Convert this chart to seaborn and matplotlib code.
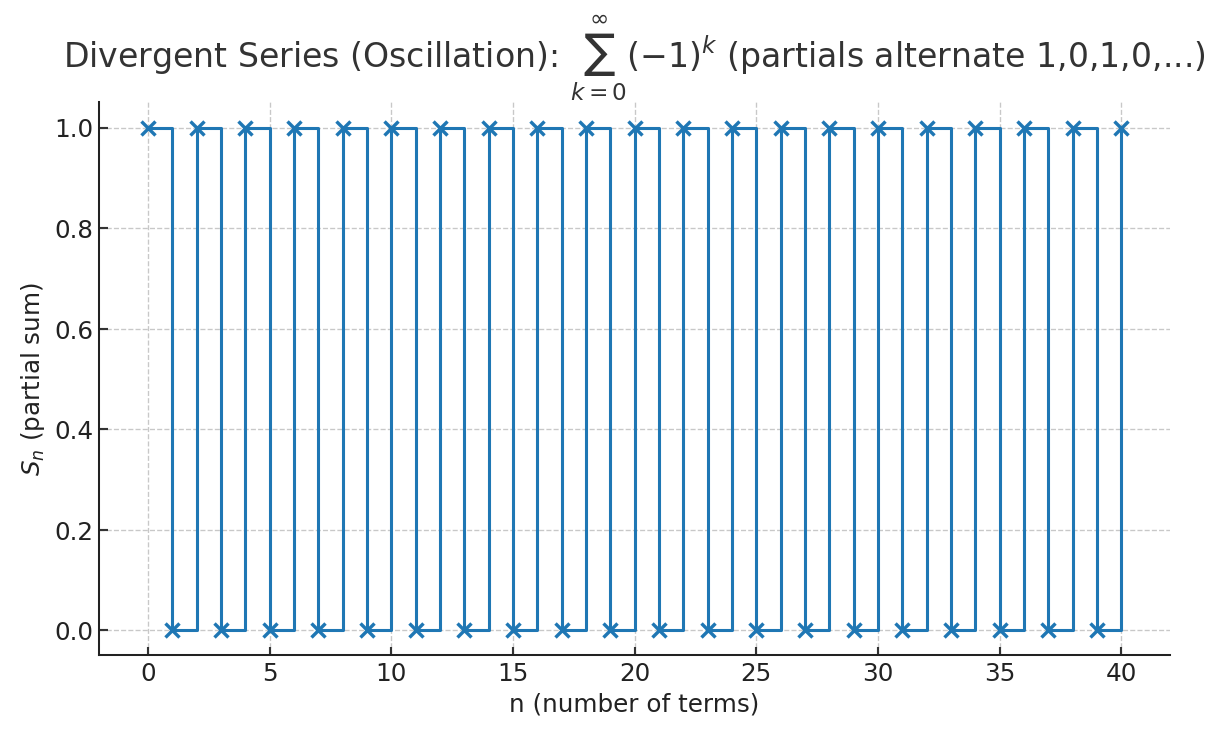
import matplotlib
matplotlib.use("Agg")
import matplotlib.pyplot as plt
import seaborn as sns
import pandas as pd

# number of terms and the partial sums S_n = sum_{k=0}^{n} (-1)^k
n_terms = [0, 1, 2, 3, 4, 5, 6, 7, 8, 9, 10, 11, 12, 13, 14, 15, 16, 17, 18, 19, 20,
           21, 22, 23, 24, 25, 26, 27, 28, 29, 30, 31, 32, 33, 34, 35, 36, 37, 38, 39, 40]
partial_sums = [1, 0, 1, 0, 1, 0, 1, 0, 1, 0, 1, 0, 1, 0, 1, 0, 1, 0, 1, 0, 1,
                0, 1, 0, 1, 0, 1, 0, 1, 0, 1, 0, 1, 0, 1, 0, 1, 0, 1, 0, 1]

df = pd.DataFrame({"n": n_terms, "S": partial_sums})

sns.set_theme(style="ticks")
plt.rcParams["font.family"] = ["DejaVu Sans"]

fig, ax = plt.subplots(figsize=(10, 6), dpi=122.4)
fig.subplots_adjust(left=0.081, right=0.956, top=0.86, bottom=0.107)

sns.lineplot(data=df, x="n", y="S", ax=ax, drawstyle="steps-post",
             marker="x", markersize=8.5, markeredgewidth=2,
             markeredgecolor="#1f77b4", markerfacecolor="#1f77b4",
             color="#1f77b4", linewidth=1.8)

ax.set_title(r"Divergent Series (Oscillation): $\sum_{k=0}^{\infty}(-1)^k$ (partials alternate 1,0,1,0,...)",
             fontsize=19.5, color="#333333", pad=8)
ax.set_xlabel("n (number of terms)", fontsize=14.5, color="#222222")
ax.set_ylabel(r"$S_n$ (partial sum)", fontsize=14.5, color="#222222")

ax.grid(True, linestyle="--", color="#c8c8c8", linewidth=0.8)
ax.tick_params(direction="in", labelsize=14.5, length=5, color="#333333", labelcolor="#222222")
ax.set_xticks([0, 5, 10, 15, 20, 25, 30, 35, 40])
ax.set_yticks([0.0, 0.2, 0.4, 0.6, 0.8, 1.0])
ax.set_xlim(-2, 42)
ax.set_ylim(-0.05, 1.05)
for side in ["top", "right"]:
    ax.spines[side].set_visible(False)
for side in ["left", "bottom"]:
    ax.spines[side].set_linewidth(1.2)
    ax.spines[side].set_color("#222222")

fig.savefig("out.png", dpi=122.4)
